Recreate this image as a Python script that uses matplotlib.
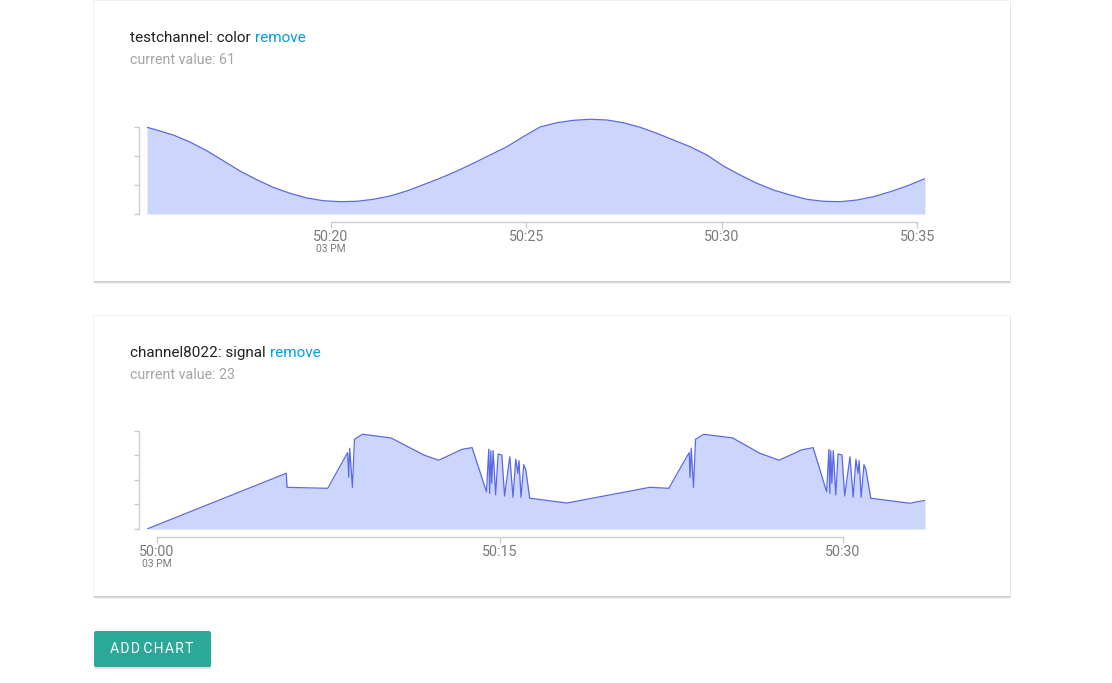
import matplotlib
matplotlib.use('Agg')
import matplotlib.pyplot as plt
from matplotlib.patches import Rectangle, FancyBboxPatch

plt.rcParams['font.family'] = ['Roboto', 'DejaVu Sans']

# 数据: 秒数 (15:50:00 之后) 和数值
color_t = [15.29, 15.54, 15.96, 16.39, 16.82, 17.24, 17.67, 18.10, 18.52, 18.95, 19.38,
           19.80, 20.23, 20.66, 21.08, 21.51, 21.94, 22.36, 22.79, 23.22, 23.64, 24.07,
           24.50, 24.92, 25.35, 25.78, 26.20, 26.63, 27.06, 27.48, 27.91, 28.34, 28.76,
           29.19, 29.62, 30.04, 30.47, 30.90, 31.32, 31.75, 32.18, 32.60, 33.03, 33.46,
           33.88, 34.31, 34.74, 35.20]
color_v = [149.5, 144.8, 136.2, 124.1, 109.1, 91.9, 74.1, 59.1, 46.0, 35.7, 27.6,
           22.9, 21.2, 21.9, 25.3, 31.0, 39.7, 50.5, 61.6, 74.1, 87.4, 101.7,
           116.0, 133.3, 150.0, 157.4, 161.5, 163.3, 162.1, 157.4, 149.5, 139.1, 127.6,
           116.0, 101.7, 82.8, 67.2, 52.9, 41.4, 32.8, 25.3, 21.9, 21.2, 24.1,
           29.8, 38.4, 48.3, 61.0]

signal_t = [-0.42, 5.67, 5.70, 7.48, 8.35, 8.40, 8.44, 8.56, 8.65, 9.00, 10.25, 11.68,
            12.33, 13.35, 13.79, 14.42, 14.52, 14.56, 14.61, 14.65, 14.71, 14.82, 14.93,
            15.09, 15.21, 15.44, 15.58, 15.70, 15.79, 15.84, 15.93, 16.05, 16.14, 16.31,
            17.94, 21.56, 22.39, 23.28, 23.32, 23.37, 23.47, 23.56, 23.92, 25.18, 26.37,
            27.21, 28.19, 28.70, 29.29, 29.39, 29.43, 29.47, 29.52, 29.58, 29.69, 29.79,
            29.96, 30.08, 30.31, 30.45, 30.57, 30.66, 30.71, 30.80, 30.92, 31.01, 31.22,
            32.93, 33.59]
signal_v = [0, 45.5, 34.0, 33.2, 62.3, 42.2, 65.9, 34.0, 73.2, 77.3, 74.3, 60.4,
            56.1, 65.0, 66.4, 30.4, 65.1, 29.1, 63.9, 37.3, 63.9, 27.8, 61.2,
            60.4, 26.9, 59.0, 25.9, 56.9, 45.5, 55.8, 25.9, 52.5, 48.2, 25.1,
            21.2, 34.0, 33.2, 62.3, 42.2, 65.9, 34.0, 73.2, 77.3, 74.3, 61.8,
            56.1, 64.5, 66.4, 30.4, 65.1, 29.1, 63.9, 37.3, 63.9, 27.8, 61.2,
            60.4, 26.9, 59.0, 25.9, 56.9, 45.5, 55.8, 25.9, 52.5, 48.2, 25.1,
            21.0, 23.4]

charts = [
    {'title': 'testchannel: color', 'current': 'current value: 61',
     't': color_t, 'v': color_v, 'yticks': [0, 50, 100, 150], 'ylim': 170,
     'xticks': [20, 25, 30, 35], 'card': (1, 281), 'plot': (115.4, 214)},
    {'title': 'channel8022: signal', 'current': 'current value: 23',
     't': signal_t, 'v': signal_v, 'yticks': [0, 20, 40, 60, 80], 'ylim': 82,
     'xticks': [0, 15, 30], 'card': (316, 596), 'plot': (428.5, 529)},
]

W, H = 1112, 683
LINE = '#5a69e6'
FILL = '#ccd6fc'
AXIS = '#cccccc'


def px_rect(left, top, right, bottom):
    # 像素坐标 -> figure 坐标
    return [left / W, 1 - bottom / H, (right - left) / W, (bottom - top) / H]


fig = plt.figure(figsize=(W / 100, H / 100), dpi=100)
bg = fig.add_axes([0, 0, 1, 1], zorder=-1)
bg.set_xlim(0, W)
bg.set_ylim(H, 0)
bg.axis('off')

for c in charts:
    top, bottom = c['card']
    # 卡片阴影 (主要在底部)
    for dy, grow, a in [(2.5, 0.5, 0.05), (1.5, 0, 0.10), (0, 0.6, 0.06)]:
        bg.add_patch(Rectangle((94 - grow, top - grow + dy), 916 + 2 * grow, bottom - top + 2 * grow,
                               color='black', alpha=a, lw=0))
    bg.add_patch(Rectangle((94, top), 916, bottom - top, color='white', lw=0))

    title = bg.text(130, top + 37, c['title'], fontsize=11, color='#222222', va='center')
    bg.annotate('remove', xy=(1, 0.5), xycoords=title, xytext=(3, 0), textcoords='offset points',
                fontsize=11, color='#039be5', va='center')
    bg.text(130, top + 59, c['current'], fontsize=10.3, color='#a4a4a4', va='center')

    ptop, pbot = c['plot']
    ax = fig.add_axes(px_rect(147, ptop, 925, pbot))
    ax.fill_between(c['t'], c['v'], 0, color=FILL, lw=0)
    ax.plot(c['t'], c['v'], color=LINE, lw=0.9)
    ax.set_xlim(min(c['t']), max(c['t']))
    ax.set_ylim(0, c['ylim'])
    ax.patch.set_alpha(0)

    for s in ['top', 'right']:
        ax.spines[s].set_visible(False)
    for s in ['left', 'bottom']:
        ax.spines[s].set_color(AXIS)
        ax.spines[s].set_linewidth(1)
        ax.spines[s].set_position(('outward', 6))
    ax.spines['left'].set_bounds(c['yticks'][0], c['yticks'][-1])
    ax.spines['bottom'].set_bounds(c['xticks'][0], c['xticks'][-1])

    ax.set_yticks(c['yticks'])
    ax.set_yticklabels([])
    ax.set_xticks(c['xticks'])
    ax.set_xticklabels(['50:%02d' % t for t in c['xticks']])
    ax.tick_params(axis='both', direction='out', color=AXIS, width=1)
    ax.tick_params(axis='y', length=3.5)
    ax.tick_params(axis='x', length=4, pad=1.5, labelsize=10.3, labelcolor='#7a7a7a')
    ax.annotate('03 PM', xy=(c['xticks'][0], 0), xycoords=('data', 'axes fraction'),
                xytext=(0, -25.5), textcoords='offset points', ha='center', va='center',
                fontsize=7.4, color='#7a7a7a')

# 按钮
bg.add_patch(Rectangle((94.5, 632.5), 116, 36, color='black', alpha=0.12, lw=0))
bg.add_patch(FancyBboxPatch((94, 631), 117, 36, boxstyle='round,pad=0,rounding_size=2',
                            color='#2ba898', lw=0))
label = '\u200a'.join('ADD') + ' ' + '\u200a'.join('CHART')
bg.text(152, 649, label, fontsize=10, color='white', ha='center', va='center')

fig.savefig('out.png', dpi=100, facecolor='white')
